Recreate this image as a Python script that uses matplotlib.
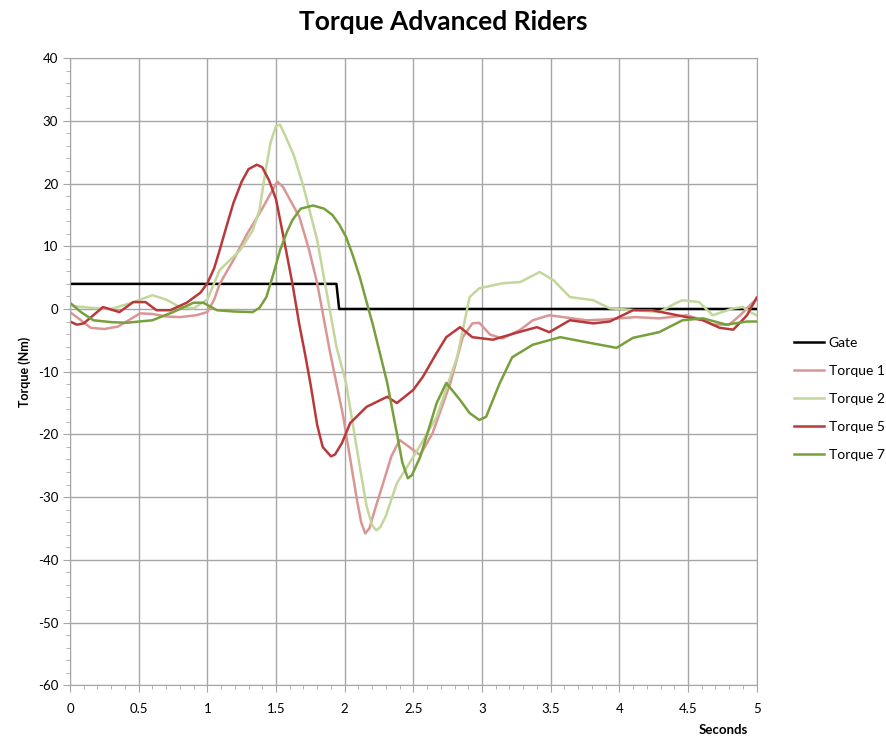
import matplotlib.pyplot as plt
from matplotlib.ticker import MultipleLocator

plt.rcParams['font.family'] = ['Lato', 'DejaVu Sans']
plt.rcParams['axes.unicode_minus'] = False

# (seconds, torque Nm)
gate_t = [0.0, 1.94, 1.96, 5.0]
gate_y = [4.0, 4.0, 0.0, 0.0]

t1_t = [0.0, 0.08, 0.15, 0.25, 0.35, 0.45, 0.51, 0.6, 0.7, 0.8, 0.92, 1.0, 1.05, 1.09, 1.19,
        1.29, 1.4, 1.45, 1.51, 1.55, 1.6, 1.67, 1.74, 1.8, 1.89, 1.99, 2.09, 2.12, 2.15, 2.18,
        2.22, 2.28, 2.34, 2.4, 2.47, 2.55, 2.64, 2.77, 2.86, 2.93, 2.98, 3.06, 3.15, 3.28,
        3.37, 3.49, 3.59, 3.76, 3.88, 4.0, 4.12, 4.29, 4.49, 4.6, 4.68, 4.8, 4.88, 4.97, 5.0]
t1_y = [-0.5, -1.8, -3.0, -3.2, -2.8, -1.5, -0.7, -0.8, -1.2, -1.3, -1.0, -0.5, 1.5, 4.0, 7.8,
        12.0, 16.0, 18.0, 20.3, 19.5, 17.5, 14.7, 9.5, 4.1, -6.5, -17.2, -30.5, -34.0, -35.8,
        -35.0, -32.0, -27.8, -23.5, -20.9, -22.0, -23.3, -19.8, -11.8, -4.5, -2.3, -2.2, -4.1,
        -4.7, -3.3, -1.8, -1.0, -1.3, -1.8, -1.7, -1.5, -1.3, -1.5, -1.0, -1.7, -2.5, -2.5,
        -1.0, 1.0, 1.5]

t2_t = [0.0, 0.15, 0.3, 0.45, 0.6, 0.7, 0.8, 0.9, 1.0, 1.09, 1.24, 1.33, 1.38, 1.42, 1.46,
        1.5, 1.53, 1.57, 1.63, 1.7, 1.8, 1.87, 1.94, 2.01, 2.11, 2.16, 2.2, 2.23, 2.26, 2.3,
        2.38, 2.53, 2.67, 2.82, 2.91, 2.98, 3.15, 3.28, 3.42, 3.52, 3.64, 3.81, 3.93, 4.12,
        4.29, 4.4, 4.46, 4.58, 4.68, 4.83, 4.9, 4.97, 5.0]
t2_y = [0.5, 0.2, 0.0, 1.0, 2.2, 1.5, 0.3, 0.1, 1.5, 6.2, 9.4, 12.5, 15.8, 21.5, 26.5,
        29.2, 29.4, 27.5, 24.5, 19.5, 11.0, 2.5, -6.0, -11.8, -25.1, -31.5, -34.5, -35.3,
        -34.8, -33.0, -27.8, -22.5, -17.2, -7.6, 1.9, 3.3, 4.1, 4.3, 5.9, 4.6, 1.9, 1.4, 0.1,
        -0.2, -0.5, 0.8, 1.4, 1.1, -1.0, 0.1, 0.3, -0.7, -1.0]

t5_t = [0.0, 0.05, 0.1, 0.17, 0.24, 0.36, 0.46, 0.55, 0.63, 0.73, 0.85, 0.95, 1.0, 1.05,
        1.09, 1.14, 1.19, 1.25, 1.3, 1.36, 1.4, 1.45, 1.5, 1.55, 1.62, 1.67, 1.71, 1.75, 1.8,
        1.84, 1.9, 1.93, 1.98, 2.04, 2.16, 2.31, 2.38, 2.5, 2.57, 2.67, 2.74, 2.84, 2.93, 3.08,
        3.25, 3.4, 3.49, 3.64, 3.81, 3.93, 4.1, 4.24, 4.49, 4.61, 4.73, 4.83, 4.93, 5.0]
t5_y = [-2.0, -2.5, -2.3, -1.0, 0.3, -0.5, 1.1, 1.1, -0.2, -0.2, 1.0, 2.6, 4.1, 6.5, 9.4,
        13.2, 16.9, 20.3, 22.3, 23.0, 22.6, 20.5, 17.5, 12.0, 4.0, -2.5, -7.0, -11.8, -18.5,
        -22.0, -23.5, -23.2, -21.4, -18.2, -15.6, -14.0, -15.0, -12.9, -10.8, -7.0, -4.5,
        -2.9, -4.5, -4.9, -3.8, -2.9, -3.7, -1.8, -2.3, -2.0, -0.2, -0.2, -1.3, -1.8, -3.0,
        -3.3, -1.0, 1.8]

t7_t = [0.0, 0.08, 0.17, 0.3, 0.41, 0.6, 0.75, 0.9, 0.97, 1.07, 1.19, 1.33, 1.38, 1.43, 1.48,
        1.53, 1.58, 1.62, 1.68, 1.77, 1.85, 1.91, 1.96, 2.01, 2.06, 2.11, 2.21, 2.31, 2.38,
        2.42, 2.46, 2.49, 2.55, 2.67, 2.74, 2.84, 2.91, 2.98, 3.03, 3.13, 3.22, 3.37, 3.57,
        3.76, 3.98, 4.1, 4.29, 4.46, 4.61, 4.78, 4.93, 5.0]
t7_y = [1.0, -0.5, -1.8, -2.1, -2.2, -1.8, -0.5, 1.0, 1.0, -0.2, -0.4, -0.5, 0.2, 1.9, 5.5,
        9.4, 12.3, 14.2, 16.0, 16.5, 16.0, 15.0, 13.5, 11.5, 8.5, 5.1, -2.9, -11.8, -19.8,
        -24.5, -27.0, -26.5, -23.6, -15.0, -11.8, -14.5, -16.6, -17.7, -17.2, -11.8, -7.7,
        -5.7, -4.5, -5.3, -6.2, -4.6, -3.7, -1.8, -1.5, -2.5, -2.0, -2.0]

fig = plt.figure(figsize=(8.86, 7.36), dpi=100)
ax = fig.add_axes([0.079, 0.069, 0.775, 0.852])

ax.plot(gate_t, gate_y, color='black', lw=1.8, label='Gate')
ax.plot(t1_t, t1_y, color='#da9694', lw=1.8, label='Torque 1')
ax.plot(t2_t, t2_y, color='#c3d69b', lw=1.8, label='Torque 2')
ax.plot(t5_t, t5_y, color='#b9393b', lw=1.8, label='Torque 5')
ax.plot(t7_t, t7_y, color='#77a03c', lw=1.8, label='Torque 7')

ax.set_xlim(0, 5)
ax.set_ylim(-60, 40)
ax.xaxis.set_major_locator(MultipleLocator(0.5))
ax.xaxis.set_minor_locator(MultipleLocator(0.1))
ax.yaxis.set_major_locator(MultipleLocator(10))
ax.yaxis.set_minor_locator(MultipleLocator(2))
ax.set_xticks([0, 0.5, 1, 1.5, 2, 2.5, 3, 3.5, 4, 4.5, 5],
              ['0', '0.5', '1', '1.5', '2', '2.5', '3', '3.5', '4', '4.5', '5'])
ax.grid(True, which='major', color='#a6a6a6', lw=1.0)
ax.set_axisbelow(True)
for s in ax.spines.values():
    s.set_color('#a6a6a6')
ax.tick_params(which='both', direction='out', colors='#a6a6a6', labelcolor='black', labelsize=9.5)
ax.tick_params(which='major', length=5)
ax.tick_params(which='minor', length=3)
ax.tick_params(axis='x', pad=8)

fig.text(0.5, 0.97, 'Torque Advanced Riders', ha='center', va='center',
         fontsize=19, fontweight='bold')
ax.set_ylabel('Torque (Nm)', fontsize=9, fontweight='bold', labelpad=5)
ax.set_xlabel('Seconds', fontsize=9.5, fontweight='bold')
ax.xaxis.set_label_coords(0.952, -0.062)

ax.legend(loc='center left', bbox_to_anchor=(1.036, 0.456), frameon=False, fontsize=10,
          handlelength=2.2, handletextpad=0.3, labelspacing=1.15)

fig.savefig('out.png', dpi=100)
